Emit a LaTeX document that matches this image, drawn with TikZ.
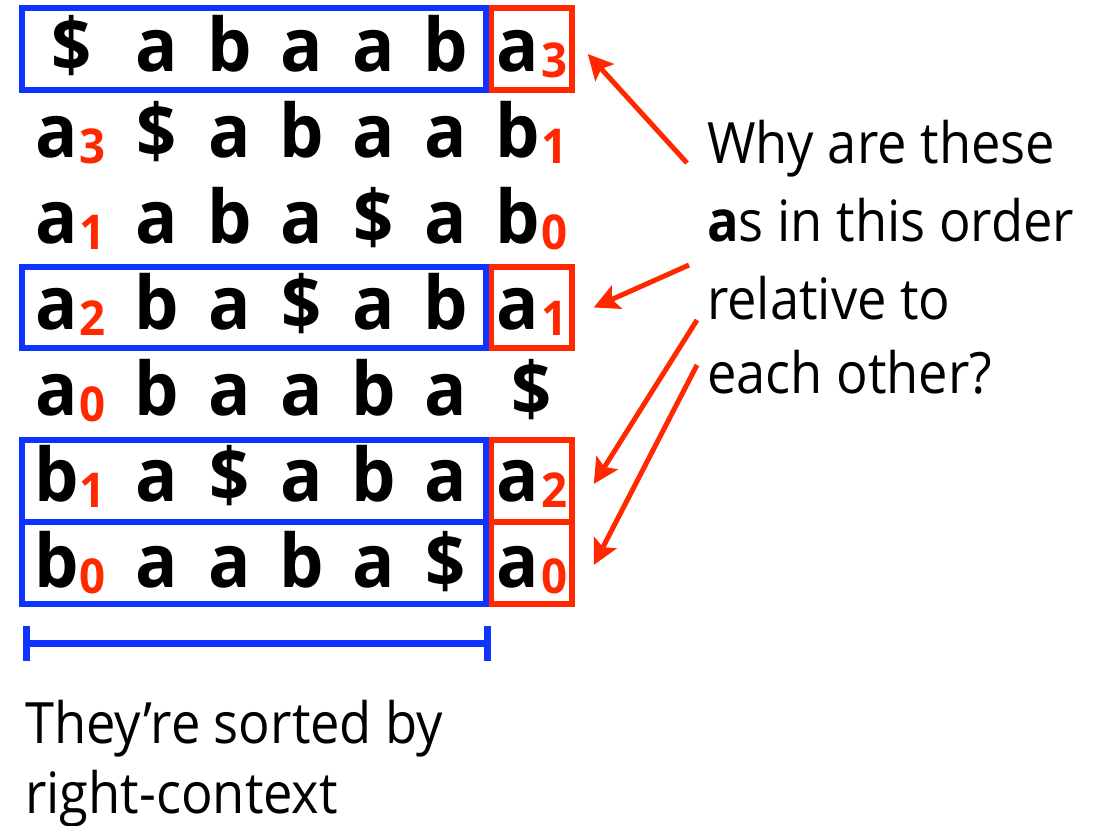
\documentclass[tikz,border=0pt]{standalone}
\usepackage{fontspec}
\setmainfont{Open Sans}[FakeStretch=0.92]
\newfontfamily\chfont{Open Sans}[FakeStretch=0.95]
\usetikzlibrary{arrows.meta}
\definecolor{myblue}{RGB}{16,52,255}
\definecolor{myred}{RGB}{255,40,0}
\tikzset{
  ch/.style={font=\chfont\bfseries\fontsize{74}{80}\selectfont, anchor=base, inner sep=0pt, text=black},
  sb/.style={font=\chfont\bfseries\fontsize{48}{50}\selectfont, anchor=base, inner sep=0pt, text=myred},
  bluebox/.style={draw=myblue, line width=5.5pt, inner sep=0pt},
  redbox/.style={draw=myred, line width=5.5pt, inner sep=0pt},
  note/.style={font=\fontsize{57}{60}\selectfont, anchor=base west, inner sep=0pt, text=black},
  redarrow/.style={draw=myred, line width=5pt, -{Stealth[length=25pt,width=25pt,inset=5pt]}},
  bracket/.style={draw=myblue, line width=7pt},
}
\begin{document}
\begin{tikzpicture}[x=1pt,y=-1pt]
\useasboundingbox (0,0) rectangle (1104,826);
% boxes
\node[bluebox, minimum width=464pt, minimum height=82pt] (B1) at (254,49) {};
\node[redbox, minimum width=80.5pt, minimum height=82pt] (R1) at (531.75,49) {};
\node[bluebox, minimum width=464pt, minimum height=81pt] (B4) at (254,307.5) {};
\node[redbox, minimum width=80.5pt, minimum height=81pt] (R4) at (531.75,307.5) {};
\node[bluebox, minimum width=464pt, minimum height=82pt] (B6) at (254,481) {};
\node[redbox, minimum width=80.5pt, minimum height=82pt] (R6) at (531.75,481) {};
\node[bluebox, minimum width=464pt, minimum height=82pt] (B7) at (254,563) {};
\node[redbox, minimum width=80.5pt, minimum height=82pt] (R7) at (531.75,563) {};
% characters
\foreach \r/\y/\xa/\xg/\ca/\cb/\cc/\cd/\ce/\cf/\cg/\sa/\sg in {
  1/71.5/72/518/\$/a/b/a/a/b/a//3,
  2/157.5/57/518/a/\$/a/b/a/a/b/3/1,
  3/243.5/57/518/a/a/b/a/\$/a/b/1/0,
  4/329.5/57/518/a/b/a/\$/a/b/a/2/1,
  5/415.5/57/532/a/b/a/a/b/a/\$/0/,
  6/501.5/57/518/b/a/\$/a/b/a/a/1/2,
  7/587.5/57/518/b/a/a/b/a/\$/a/0/0}{
  \node[ch] (r\r-1) at (\xa,\y) {\ca};
  \node[ch] (r\r-2) at (157,\y) {\cb};
  \node[ch] (r\r-3) at (230,\y) {\cc};
  \node[ch] (r\r-4) at (302,\y) {\cd};
  \node[ch] (r\r-5) at (374,\y) {\ce};
  \node[ch] (r\r-6) at (446,\y) {\cf};
  \node[ch] (r\r-7) at (\xg,\y) {\cg};
  \node[sb] (s\r-1) at (\xa+36,\y+6) {\sa};
  \node[sb] (s\r-7) at (\xg+37,\y+6) {\sg};
}
% question text
\node[note] (q1) at (707,164) {Why are these};
\node[note] (q2) at (707,242) {{\bfseries a}s in this order};
\node[note] (q3) at (707,320) {relative to};
\node[note] (q4) at (707,394) {each other?};
% bottom text
\node[note] (n1) at (25,743) {They’re sorted by};
\node[note] (n2) at (25,813) {right-context};
% arrows
\draw[redarrow] ([xshift=-20pt,yshift=1pt]q1.base west) -- ([xshift=13pt,yshift=-5pt]R1.east);
\draw[redarrow] ([xshift=-18pt,yshift=-23pt]q2.base west) -- ([xshift=19pt]R4.east);
\draw[redarrow] ([xshift=-10pt]q3.base west) -- ([xshift=19pt,yshift=-3pt]R6.east);
\draw[redarrow] ([xshift=-10pt,yshift=29pt]q4.base west) -- ([xshift=19pt,yshift=-2pt]R7.east);
% bracket
\coordinate (bl) at (26,643);
\coordinate (br) at (487,643);
\draw[bracket] (bl) -- (br);
\draw[bracket] (26,626) -- (26,661);
\draw[bracket] (487,626) -- (487,661);
\end{tikzpicture}
\end{document}
